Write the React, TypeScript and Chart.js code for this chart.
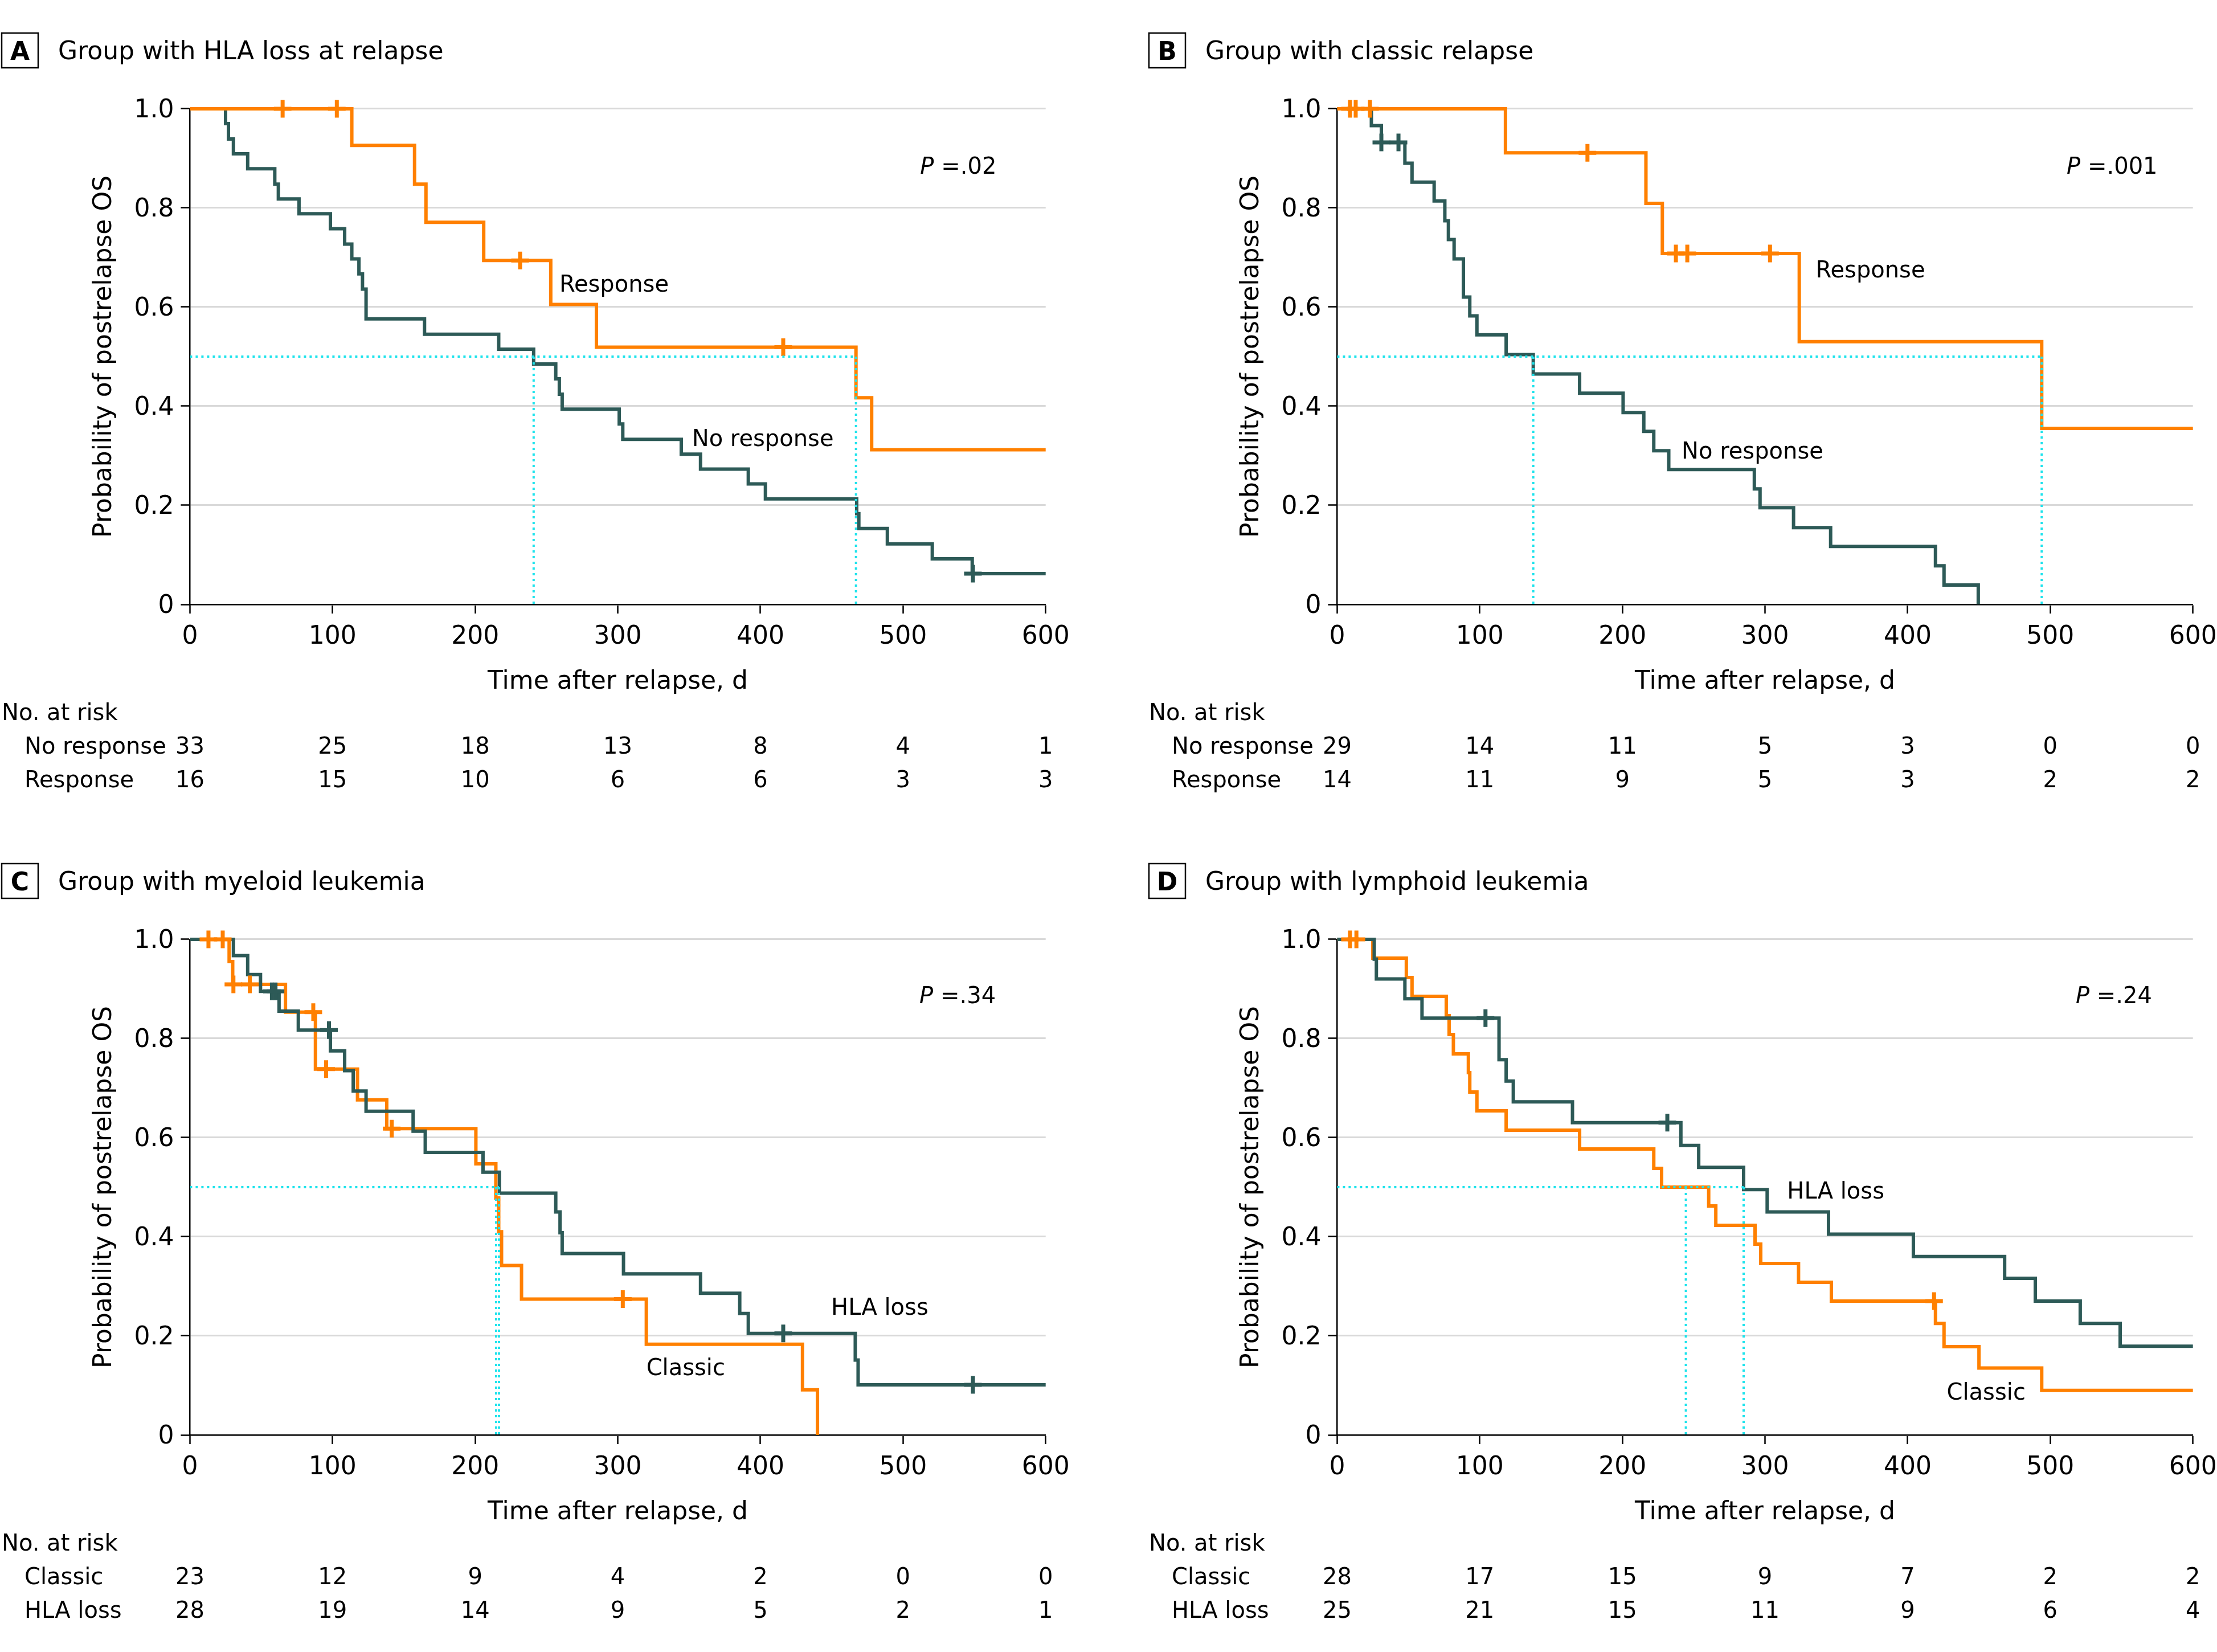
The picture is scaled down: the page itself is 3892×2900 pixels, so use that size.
import React, { useEffect, useRef } from "react";
import { Chart, registerables } from "chart.js";
Chart.register(...registerables);

// ---------- shared ticks ----------
const X_TICKS = [0, 100, 200, 300, 400, 500, 600];
const Y_TICKS = [0, 0.2, 0.4, 0.6, 0.8, 1.0];
const X_TITLE = "Time after relapse, d";
const Y_TITLE = "Probability of postrelapse OS";

// ---------- Panel A: HLA loss at relapse ----------
const A_NORESP_T = [0, 25, 27, 30.5, 40.5, 59.5, 62, 76.5, 98.5, 108.5, 113.5, 118.5, 121, 123.5, 164.5, 216.5, 241, 256.5, 259, 261, 301, 303.5, 344.5, 358, 391.5, 403.5, 467.5, 469, 489, 520.5, 548.5, 600];
const A_NORESP_S = [1, 0.970, 0.939, 0.909, 0.879, 0.848, 0.818, 0.788, 0.758, 0.727, 0.697, 0.667, 0.636, 0.576, 0.545, 0.515, 0.485, 0.455, 0.424, 0.394, 0.364, 0.333, 0.303, 0.273, 0.243, 0.213, 0.183, 0.153, 0.122, 0.092, 0.062, 0.062];
const A_NORESP_CENSOR = [549];
const A_RESP_T = [0, 113.5, 157.5, 165.5, 206, 253, 285, 467, 478, 600];
const A_RESP_S = [1, 0.926, 0.848, 0.771, 0.694, 0.605, 0.519, 0.417, 0.312, 0.312];
const A_RESP_CENSOR = [65, 103, 231.5, 416];
const A_RISK_NORESP = [33, 25, 18, 13, 8, 4, 1];
const A_RISK_RESP = [16, 15, 10, 6, 6, 3, 3];
const A_MEDIANS = [241, 467];

// ---------- Panel B: classic relapse ----------
const B_NORESP_T = [0, 24, 31, 47.5, 52.5, 68, 75.5, 78, 82, 88.5, 93, 98, 118.5, 137.5, 170, 200.5, 215, 222, 232.5, 292.5, 296.5, 320, 346, 419.5, 425.5, 449.5];
const B_NORESP_S = [1, 0.966, 0.932, 0.890, 0.852, 0.814, 0.774, 0.736, 0.697, 0.620, 0.582, 0.544, 0.504, 0.465, 0.426, 0.387, 0.349, 0.310, 0.272, 0.233, 0.195, 0.155, 0.117, 0.078, 0.039, 0];
const B_NORESP_CENSOR = [31, 43];
const B_RESP_T = [0, 118, 216.5, 228, 324, 494, 600];
const B_RESP_S = [1, 0.911, 0.809, 0.708, 0.530, 0.355, 0.355];
const B_RESP_CENSOR = [9, 13, 23, 175.5, 237.5, 245.5, 303.5];
const B_RISK_NORESP = [29, 14, 11, 5, 3, 0, 0];
const B_RISK_RESP = [14, 11, 9, 5, 3, 2, 2];
const B_MEDIANS = [137.5, 494];

// ---------- Panel C: myeloid leukemia ----------
const C_CLASSIC_T = [0, 27.5, 30, 67, 88, 117.5, 138, 200.5, 214.5, 216.5, 218.5, 232.5, 320, 429.5, 440];
const C_CLASSIC_S = [1, 0.955, 0.909, 0.853, 0.738, 0.676, 0.618, 0.547, 0.478, 0.410, 0.342, 0.274, 0.183, 0.091, 0];
const C_CLASSIC_CENSOR = [13, 23, 30.5, 42, 86.5, 95.5, 141.5, 303.5];
const C_HLA_T = [0, 30.5, 40.5, 49.5, 62.5, 76, 98.5, 108.5, 114.5, 123.5, 156.5, 165, 205.5, 217, 256.5, 259.5, 261, 304, 358, 385.5, 391.5, 466.5, 468.5, 600];
const C_HLA_S = [1, 0.967, 0.929, 0.895, 0.855, 0.817, 0.775, 0.735, 0.694, 0.653, 0.613, 0.570, 0.530, 0.488, 0.450, 0.408, 0.366, 0.325, 0.286, 0.245, 0.205, 0.151, 0.101, 0.101];
const C_HLA_CENSOR = [57.5, 60, 97.5, 416, 549];
const C_RISK_CLASSIC = [23, 12, 9, 4, 2, 0, 0];
const C_RISK_HLA = [28, 19, 14, 9, 5, 2, 1];
const C_MEDIANS = [214.7, 216.7];

// ---------- Panel D: lymphoid leukemia ----------
const D_CLASSIC_T = [0, 25, 48.5, 52.5, 76.5, 78.5, 81.5, 92, 93, 98, 118.5, 170, 222, 227.5, 260.5, 265.5, 293, 297, 323.5, 346.5, 419.5, 425.5, 450, 494, 600];
const D_CLASSIC_S = [1, 0.962, 0.923, 0.885, 0.846, 0.808, 0.769, 0.731, 0.692, 0.654, 0.615, 0.577, 0.538, 0.500, 0.462, 0.423, 0.385, 0.346, 0.308, 0.270, 0.225, 0.178, 0.135, 0.090, 0.090];
const D_CLASSIC_CENSOR = [9, 13.5, 418.5];
const D_HLA_T = [0, 26, 27.5, 47.5, 59.5, 113.5, 118.5, 123.5, 165, 241, 253.5, 285, 301.5, 344.5, 404, 468, 489.5, 521, 549, 600];
const D_HLA_S = [1, 0.960, 0.920, 0.880, 0.841, 0.757, 0.714, 0.672, 0.630, 0.584, 0.540, 0.495, 0.450, 0.405, 0.360, 0.316, 0.270, 0.225, 0.179, 0.179];
const D_HLA_CENSOR = [104, 231.5];
const D_RISK_CLASSIC = [28, 17, 15, 9, 7, 2, 2];
const D_RISK_HLA = [25, 21, 15, 11, 9, 6, 4];
const D_MEDIANS = [244.5, 285];

// ---------- styles ----------
const ORANGE = "#ff8000";
const TEAL = "#2d5a57";
const CYAN = "#1fe3ec";
const FONT = "'DejaVu Sans', sans-serif";
const W = 1878;
const H = 1442;
const DY = 5;

type Group = { name: string; color: string; t: number[]; s: number[]; censor: number[]; risk: number[]; label: [number, number] };
type Panel = { letter: string; title: string; p: string; pPos: [number, number]; groups: Group[]; medians: number[]; left: number; top: number };

const PANELS: Panel[] = [
  {
    letter: "A", title: "Group with HLA loss at relapse", p: ".02", pPos: [512, 0.887], medians: A_MEDIANS, left: 0, top: 0,
    groups: [
      { name: "No response", color: TEAL, t: A_NORESP_T, s: A_NORESP_S, censor: A_NORESP_CENSOR, risk: A_RISK_NORESP, label: [352, 0.337] },
      { name: "Response", color: ORANGE, t: A_RESP_T, s: A_RESP_S, censor: A_RESP_CENSOR, risk: A_RISK_RESP, label: [259, 0.649] },
    ],
  },
  {
    letter: "B", title: "Group with classic relapse", p: ".001", pPos: [511.5, 0.887], medians: B_MEDIANS, left: 2014, top: 0,
    groups: [
      { name: "No response", color: TEAL, t: B_NORESP_T, s: B_NORESP_S, censor: B_NORESP_CENSOR, risk: B_RISK_NORESP, label: [241.5, 0.312] },
      { name: "Response", color: ORANGE, t: B_RESP_T, s: B_RESP_S, censor: B_RESP_CENSOR, risk: B_RISK_RESP, label: [335.5, 0.677] },
    ],
  },
  {
    letter: "C", title: "Group with myeloid leukemia", p: ".34", pPos: [511.5, 0.889], medians: C_MEDIANS, left: 0, top: 1458,
    groups: [
      { name: "Classic", color: ORANGE, t: C_CLASSIC_T, s: C_CLASSIC_S, censor: C_CLASSIC_CENSOR, risk: C_RISK_CLASSIC, label: [320, 0.138] },
      { name: "HLA loss", color: TEAL, t: C_HLA_T, s: C_HLA_S, censor: C_HLA_CENSOR, risk: C_RISK_HLA, label: [449.6, 0.26] },
    ],
  },
  {
    letter: "D", title: "Group with lymphoid leukemia", p: ".24", pPos: [517.8, 0.889], medians: D_MEDIANS, left: 2014, top: 1458,
    groups: [
      { name: "Classic", color: ORANGE, t: D_CLASSIC_T, s: D_CLASSIC_S, censor: D_CLASSIC_CENSOR, risk: D_RISK_CLASSIC, label: [427.4, 0.089] },
      { name: "HLA loss", color: TEAL, t: D_HLA_T, s: D_HLA_S, censor: D_HLA_CENSOR, risk: D_RISK_HLA, label: [315.5, 0.495] },
    ],
  },
];

function survAt(t: number, T: number[], S: number[]) {
  let v = S[0];
  for (let i = 0; i < T.length; i++) if (T[i] <= t) v = S[i];
  return v;
}

function textPlugin(p: Panel) {
  return {
    id: "panelText" + p.letter,
    afterDraw(chart: any) {
      const ctx = chart.ctx as CanvasRenderingContext2D;
      const xs = chart.scales.x;
      const ys = chart.scales.y;
      const area = chart.chartArea;
      ctx.save();
      ctx.fillStyle = "#000";
      ctx.strokeStyle = "#000";
      ctx.textBaseline = "middle";
      // panel letter box + title
      ctx.lineWidth = 2.5;
      ctx.strokeRect(3, 58, 64, 61);
      ctx.font = `bold 44px ${FONT}`;
      ctx.textAlign = "center";
      ctx.fillText(p.letter, 35, 89 + DY);
      ctx.font = `44px ${FONT}`;
      ctx.textAlign = "left";
      ctx.fillText(p.title, 102, 88 + DY);
      // y title
      ctx.save();
      ctx.translate(179 + DY, (area.top + area.bottom) / 2);
      ctx.rotate(-Math.PI / 2);
      ctx.textAlign = "center";
      ctx.fillText(Y_TITLE, 0, 0);
      ctx.restore();
      // x title
      ctx.textAlign = "center";
      ctx.fillText(X_TITLE, (area.left + area.right) / 2, 1193 + DY);
      // curve labels
      ctx.font = `40px ${FONT}`;
      ctx.textAlign = "left";
      p.groups.forEach((g) => ctx.fillText(g.name, xs.getPixelForValue(g.label[0]), ys.getPixelForValue(g.label[1]) + DY));
      // P value
      let px = xs.getPixelForValue(p.pPos[0]);
      const py = ys.getPixelForValue(p.pPos[1]) + DY;
      ctx.font = `italic 40px ${FONT}`;
      ctx.fillText("P", px, py);
      px += ctx.measureText("P").width;
      ctx.font = `40px ${FONT}`;
      ctx.fillText(" =" + p.p, px, py);
      // risk table
      ctx.fillText("No. at risk", 3, 1249 + DY);
      const rowY = [1308 + DY, 1367 + DY];
      p.groups.forEach((g, i) => {
        ctx.textAlign = "left";
        ctx.fillText(g.name, 43, rowY[i]);
        ctx.textAlign = "center";
        X_TICKS.forEach((t, j) => ctx.fillText(String(g.risk[j]), xs.getPixelForValue(t), rowY[i]));
      });
      ctx.restore();
    },
  };
}

function buildConfig(p: Panel): any {
  const datasets: any[] = [];
  const dotted = { borderColor: CYAN, borderWidth: 4, borderDash: [4, 6], pointRadius: 0, fill: false, clip: false };
  const maxMed = Math.max(...p.medians);
  datasets.push({ ...dotted, data: [{ x: 0, y: 0.5 }, { x: maxMed, y: 0.5 }] });
  p.medians.forEach((m) => datasets.push({ ...dotted, data: [{ x: m, y: 0.5 }, { x: m, y: 0 }] }));
  const rev = [...p.groups].reverse();
  rev.forEach((g) =>
    datasets.push({
      data: g.censor.map((c) => ({ x: c, y: survAt(c, g.t, g.s) })),
      showLine: false,
      pointStyle: "cross",
      pointRadius: 15.5,
      pointHoverRadius: 15.5,
      borderWidth: 7,
      pointBorderWidth: 7,
      pointHoverBorderWidth: 7,
      pointBorderColor: g.color,
      pointBackgroundColor: g.color,
      borderColor: g.color,
      clip: false,
    })
  );
  rev.forEach((g) =>
    datasets.push({
      data: g.t.map((t, i) => ({ x: t, y: g.s[i] })),
      stepped: "before",
      borderColor: g.color,
      borderWidth: 6,
      borderJoinStyle: "miter",
      borderCapStyle: "butt",
      pointRadius: 0,
      fill: false,
      clip: false,
    })
  );
  const tickFont = { family: FONT, size: 44 };
  const zeroPad = (s: any) => {
    s.paddingLeft = 0;
    s.paddingRight = 0;
    s.paddingTop = 0;
    s.paddingBottom = 0;
  };
  return {
    type: "line",
    data: { datasets },
    options: {
      animation: false,
      responsive: false,
      maintainAspectRatio: false,
      events: [],
      layout: { padding: { left: 0, top: 190.9, right: 42.3, bottom: 0 } },
      plugins: { legend: { display: false }, tooltip: { enabled: false }, title: { display: false } },
      scales: {
        x: {
          type: "linear",
          min: 0,
          max: 600,
          afterBuildTicks: (s: any) => { s.ticks = X_TICKS.map((v) => ({ value: v })); },
          afterFit: (s: any) => { s.height = 381; zeroPad(s); },
          ticks: { font: tickFont, color: "#000", padding: 15, maxRotation: 0, autoSkip: false },
          grid: { drawOnChartArea: false, drawTicks: true, tickLength: 16, tickColor: "#000", tickWidth: 2.5, color: "#000" },
          border: { color: "#000", width: 2.5 },
        },
        y: {
          type: "linear",
          min: 0,
          max: 1,
          afterBuildTicks: (s: any) => { s.ticks = Y_TICKS.map((v) => ({ value: v })); },
          afterFit: (s: any) => { s.width = 333.4; zeroPad(s); },
          ticks: { font: tickFont, color: "#000", padding: 12, labelOffset: 4, callback: (v: any) => (Number(v) === 0 ? "0" : Number(v).toFixed(1)) },
          grid: { color: "#d9d9d9", lineWidth: 3, tickLength: 16, tickColor: "#000", tickWidth: 2.5 },
          border: { color: "#000", width: 2.5 },
        },
      },
    },
    plugins: [textPlugin(p)],
  };
}

function PanelChart({ panel }: { panel: Panel }) {
  const ref = useRef<HTMLCanvasElement>(null);
  useEffect(() => {
    const chart = new Chart(ref.current as HTMLCanvasElement, buildConfig(panel));
    return () => chart.destroy();
  }, [panel]);
  return (
    <canvas
      ref={ref}
      width={W}
      height={H}
      style={{ position: "absolute", left: panel.left, top: panel.top, width: W, height: H }}
    />
  );
}

export default function App() {
  return (
    <div style={{ position: "absolute", left: 0, top: 0, width: 3892, height: 2900, background: "#fff", overflow: "hidden" }}>
      {PANELS.map((p) => (
        <PanelChart key={p.letter} panel={p} />
      ))}
    </div>
  );
}
